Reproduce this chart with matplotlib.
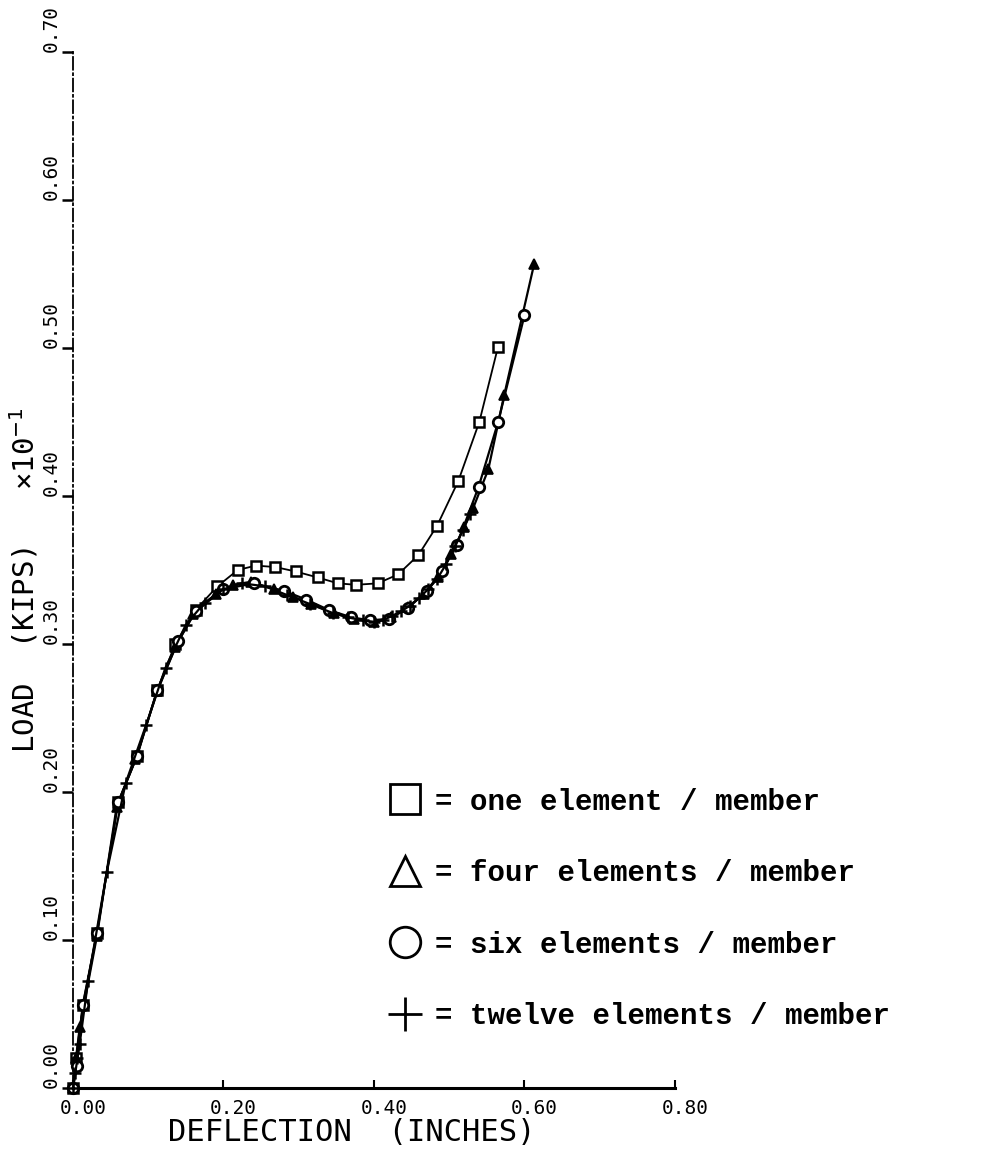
import matplotlib
matplotlib.use('Agg')
import matplotlib.pyplot as plt
from matplotlib.lines import Line2D
from matplotlib.transforms import ScaledTranslation

# one element / member (squares)
x_one = [0.0, 0.004, 0.013, 0.032, 0.060, 0.085, 0.112, 0.136, 0.163, 0.192, 0.219,
         0.243, 0.269, 0.296, 0.325, 0.352, 0.376, 0.405, 0.432, 0.459, 0.484,
         0.512, 0.540, 0.565]
y_one = [0.0, 0.020, 0.056, 0.105, 0.193, 0.224, 0.269, 0.300, 0.323, 0.339, 0.350,
         0.353, 0.352, 0.349, 0.345, 0.341, 0.340, 0.341, 0.347, 0.360, 0.380,
         0.410, 0.450, 0.501]

# four elements / member (triangles)
x_four = [0.0, 0.004, 0.009, 0.032, 0.058, 0.083, 0.112, 0.136, 0.160, 0.190, 0.213,
          0.236, 0.267, 0.293, 0.316, 0.347, 0.373, 0.400, 0.423, 0.445, 0.467,
          0.485, 0.503, 0.520, 0.532, 0.552, 0.573, 0.613]
y_four = [0.0, 0.020, 0.041, 0.103, 0.190, 0.222, 0.268, 0.298, 0.320, 0.334, 0.340,
          0.342, 0.337, 0.332, 0.327, 0.321, 0.317, 0.315, 0.318, 0.325, 0.334,
          0.345, 0.361, 0.379, 0.392, 0.418, 0.468, 0.557]

# six elements / member (circles)
x_six = [0.0, 0.005, 0.013, 0.032, 0.060, 0.085, 0.112, 0.140, 0.163, 0.200, 0.240,
         0.280, 0.310, 0.340, 0.370, 0.395, 0.420, 0.445, 0.470, 0.490, 0.510,
         0.539, 0.565, 0.600]
y_six = [0.0, 0.015, 0.056, 0.105, 0.193, 0.224, 0.269, 0.302, 0.322, 0.337, 0.341,
         0.336, 0.330, 0.323, 0.318, 0.316, 0.317, 0.324, 0.336, 0.349, 0.367,
         0.406, 0.450, 0.522]

# twelve elements / member (plus)
x_twelve = [0.0, 0.003, 0.006, 0.009, 0.020, 0.045, 0.070, 0.097, 0.123, 0.150, 0.175,
            0.200, 0.225, 0.255, 0.285, 0.315, 0.345, 0.365, 0.385, 0.400, 0.412,
            0.424, 0.436, 0.448, 0.460, 0.472, 0.484, 0.496, 0.508, 0.518, 0.528]
y_twelve = [0.0, 0.010, 0.020, 0.030, 0.072, 0.146, 0.206, 0.245, 0.284, 0.313, 0.328,
            0.337, 0.341, 0.339, 0.333, 0.327, 0.321, 0.318, 0.316, 0.315, 0.316,
            0.319, 0.322, 0.326, 0.331, 0.337, 0.344, 0.354, 0.366, 0.377, 0.388]

xticks = [0.0, 0.2, 0.4, 0.6, 0.8]
xtick_labels = ['0.00', '0.20', '0.40', '0.60', '0.80']
yticks = [0.0, 0.1, 0.2, 0.3, 0.4, 0.5, 0.6, 0.7]
ytick_labels = ['0.00', '0.10', '0.20', '0.30', '0.40', '0.50', '0.60', '0.70']
legend_labels = ['= one element / member',
                 '= four elements / member',
                 '= six elements / member',
                 '= twelve elements / member']

mono = 'DejaVu Sans Mono'

fig = plt.figure(figsize=(9.82, 11.54), dpi=100)
ax = fig.add_axes([0.0743, 0.0572, 0.6130, 0.8977])

ax.plot(x_one, y_one, color='black', lw=1.3, marker='s', ms=7.5, mfc='white',
        mec='black', mew=1.8, clip_on=False, zorder=3)
ax.plot(x_four, y_four, color='black', lw=1.6, marker='^', ms=7, mfc='black',
        mec='black', mew=1.2, clip_on=False, zorder=4)
ax.plot(x_six, y_six, color='black', lw=1.6, marker='o', ms=7.5, mfc='white',
        mec='black', mew=2.0, clip_on=False, zorder=4)
ax.plot(x_twelve, y_twelve, color='black', lw=1.6, marker='+', ms=9,
        mec='black', mew=1.8, clip_on=False, zorder=5)

ax.set_xlim(0, 0.8)
ax.set_ylim(0, 0.7)

ax.spines['top'].set_visible(False)
ax.spines['right'].set_visible(False)
ax.spines['bottom'].set_linewidth(2.2)
ax.spines['left'].set_linewidth(1.3)
ax.spines['left'].set_linestyle((0, (7, 2, 1, 2)))

ax.set_xticks(xticks)
ax.set_xticklabels(xtick_labels, fontsize=14, family=mono)
ax.set_yticks(yticks)
ax.set_yticklabels(ytick_labels, fontsize=14, family=mono)
ax.tick_params(axis='x', direction='in', length=6, width=1.5, pad=8)
ax.tick_params(axis='y', direction='out', length=8, width=1.8, pad=1)

# decimal point of x labels sits on the tick
shift = ScaledTranslation(0.10, 0, fig.dpi_scale_trans)
for lab in ax.get_xticklabels():
    lab.set_transform(lab.get_transform() + shift)
for lab in ax.get_yticklabels():
    lab.set_rotation(90)
    lab.set_va('bottom')

ax.set_xlabel('DEFLECTION  (INCHES)', fontsize=22, family=mono, va='center')
ax.xaxis.set_label_coords(0.463, -0.043)
ax.set_ylabel('LOAD  (KIPS)   \u00d710$^{-1}$', fontsize=21, family=mono, va='center')
ax.yaxis.set_label_coords(-0.082, 0.49)

handles = [
    Line2D([], [], ls='none', marker='s', ms=21, mfc='white', mec='black', mew=2),
    Line2D([], [], ls='none', marker='^', ms=21, mfc='white', mec='black', mew=2),
    Line2D([], [], ls='none', marker='o', ms=22, mfc='white', mec='black', mew=2),
    Line2D([], [], ls='none', marker='+', ms=24, mec='black', mew=2),
]
fig.legend(handles, legend_labels, loc='upper left', bbox_to_anchor=(0.395, 0.3175),
           frameon=False, prop={'family': 'Liberation Mono', 'weight': 'bold', 'size': 21},
           handlelength=1.2, handletextpad=0.4, labelspacing=1.49, borderpad=0,
           borderaxespad=0)

fig.savefig('out.png', dpi=100)
